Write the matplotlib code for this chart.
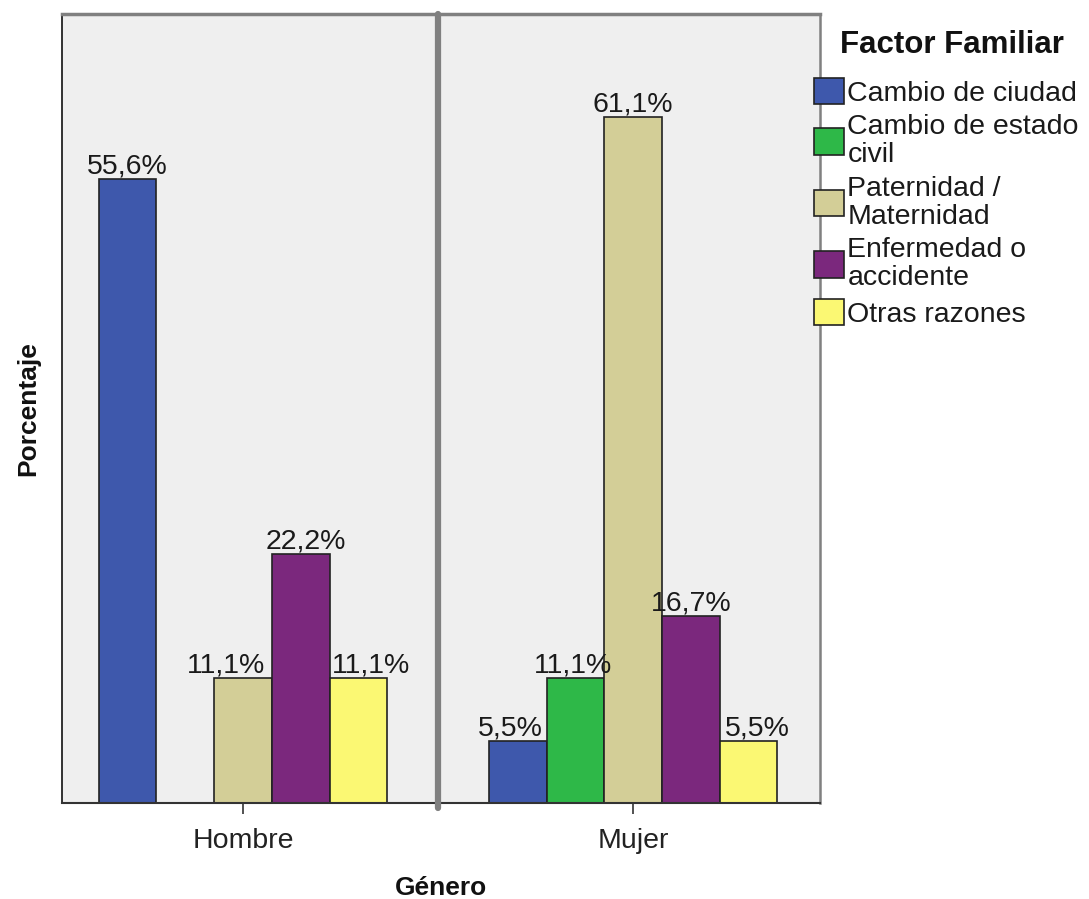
import matplotlib
matplotlib.use("Agg")
import matplotlib.pyplot as plt
import numpy as np

plt.rcParams['font.family'] = ['Liberation Sans', 'DejaVu Sans']

generos = ["Hombre", "Mujer"]
factores = ["Cambio de ciudad", "Cambio de estado\ncivil", "Paternidad /\nMaternidad",
            "Enfermedad o\naccidente", "Otras razones"]
hombre = [55.6, 0.0, 11.1, 22.2, 11.1]
mujer = [5.5, 11.1, 61.1, 16.7, 5.5]
colores = ["#3E58AC", "#2EB848", "#D3CE97", "#7B287D", "#FBF873"]
# small horizontal nudges (points) so labels don't collide, like the original
desplaz = [[0, 0, -12, 4, 9], [-5, -2, 0, 0, 6]]

fig = plt.figure(figsize=(10.89, 8.99), dpi=100)
ax = fig.add_axes([62/1089, 1 - 803/899, (820-62)/1089, (803-14)/899])
ax.set_facecolor("#EFEFEF")

w = 0.148
x = np.arange(len(generos))
valores = np.array([hombre, mujer])
for i, f in enumerate(factores):
    pos = x + (i - 2) * w
    vals = valores[:, i]
    ax.bar(pos, vals, width=w, color=colores[i], edgecolor="#222222", linewidth=1.2,
           label=f, zorder=2)
    for j, (p, v) in enumerate(zip(pos, vals)):
        if v > 0:
            ax.annotate(f"{v:.1f}%".replace(".", ","), (p, v), xytext=(desplaz[j][i], 4),
                        textcoords="offset points", ha="center", va="baseline",
                        fontsize=20.5, color="#1a1a1a", zorder=3)

ax.axvline(0.5, color="#808080", linewidth=4.5, zorder=3, clip_on=False,
           ymin=-0.006, solid_capstyle="round")
ax.set_xlim(-0.464, 1.479)
ax.set_ylim(0, 70.3)
ax.set_yticks([])
ax.set_xticks(x)
ax.set_xticklabels(generos, fontsize=20.5, color="#222222")
ax.tick_params(axis="x", length=8, width=1.2, color="#333333", pad=10)

ax.spines["left"].set_color("#111111")
ax.spines["left"].set_linewidth(1.2)
ax.spines["top"].set_color("#808080")
ax.spines["top"].set_linewidth(2.5)
ax.spines["right"].set_color("#808080")
ax.spines["right"].set_linewidth(1.8)
ax.spines["bottom"].set_color("#333333")
ax.spines["bottom"].set_linewidth(1.5)

ax.set_xlabel("Género", fontsize=19, fontweight="bold", labelpad=16, color="#111111")
ax.set_ylabel("Porcentaje", fontsize=19, fontweight="bold", labelpad=16, color="#111111")

fig.text(840/1089, 1 - 45/899, "Factor Familiar", fontsize=22.5, fontweight="bold",
         ha="left", va="center", color="#111111")
leg = fig.legend(loc="upper left", bbox_to_anchor=(814/1089, 1 - 78/899), frameon=False,
                 fontsize=20.5, handlelength=1.05, handleheight=1.05,
                 handletextpad=0.12, labelspacing=0.25, borderaxespad=0, borderpad=0)
for t in leg.get_texts():
    t.set_linespacing(1.12)
    t.set_color("#1a1a1a")

fig.savefig("out.png", dpi=100)
